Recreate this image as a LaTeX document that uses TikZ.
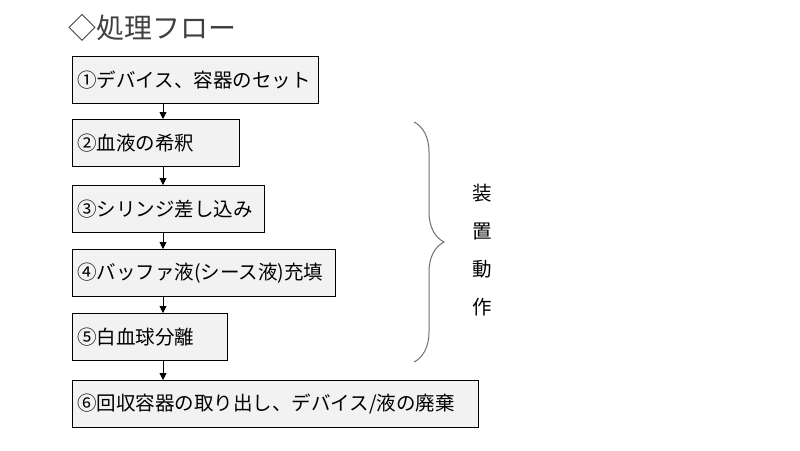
\documentclass[tikz,border=0pt]{standalone}
\usepackage{fontspec}
\setmainfont{Noto Sans CJK JP}
\usetikzlibrary{arrows.meta,decorations.pathreplacing}
\definecolor{boxgray}{RGB}{242,242,242}
\definecolor{bracegray}{RGB}{110,110,110}
\definecolor{titlegray}{RGB}{64,64,64}

\tikzset{
  stepbox/.style={draw=black, fill=boxgray, anchor=north west, minimum height=47pt,
    inner xsep=5pt, inner ysep=0pt, align=left, font=\fontsize{19.5}{22}\selectfont},
  flowarrow/.style={-{Triangle[width=7pt,length=7pt]}, black, line width=0.8pt}
}

\begin{document}
\begin{tikzpicture}[x=1pt,y=-1pt]
  \useasboundingbox (0,0) rectangle (800,450);
  \node[anchor=west, font=\fontsize{28}{30}\selectfont, text=titlegray, inner sep=0pt] (title) at (68,28) {◇処理フロー};

  \node[stepbox, text width=236pt] (s1) at (72,56) {①デバイス、容器のセット};
  \node[stepbox, text width=157pt] (s2) at (72,119) {②血液の希釈};
  \node[stepbox, text width=182pt] (s3) at (72,185) {③シリンジ差し込み};
  \node[stepbox, text width=253pt] (s4) at (72,249) {④バッファ液(シース液)充填};
  \node[stepbox, text width=145pt] (s5) at (72,313) {⑤白血球分離};
  \node[stepbox, text width=396pt] (s6) at (72,380) {⑥回収容器の取り出し、デバイス/液の廃棄};

  \coordinate (axis) at (163,0);
  \foreach \a/\b in {s1/s2,s2/s3,s3/s4,s4/s5,s5/s6}
    \draw[flowarrow] (\a.south -| axis) -- (\b.north -| axis);

  % brace for the machine steps
  \coordinate (bracetop) at (414,122);
  \coordinate (bracebot) at (414,362);
  \draw[bracegray, line width=1pt, decorate, decoration={brace, amplitude=30pt}] (bracetop) -- (bracebot);
  \node[align=center, font=\fontsize{19.5}{38}\selectfont] (label) at (482,250) {装\\置\\動\\作};
\end{tikzpicture}
\end{document}
